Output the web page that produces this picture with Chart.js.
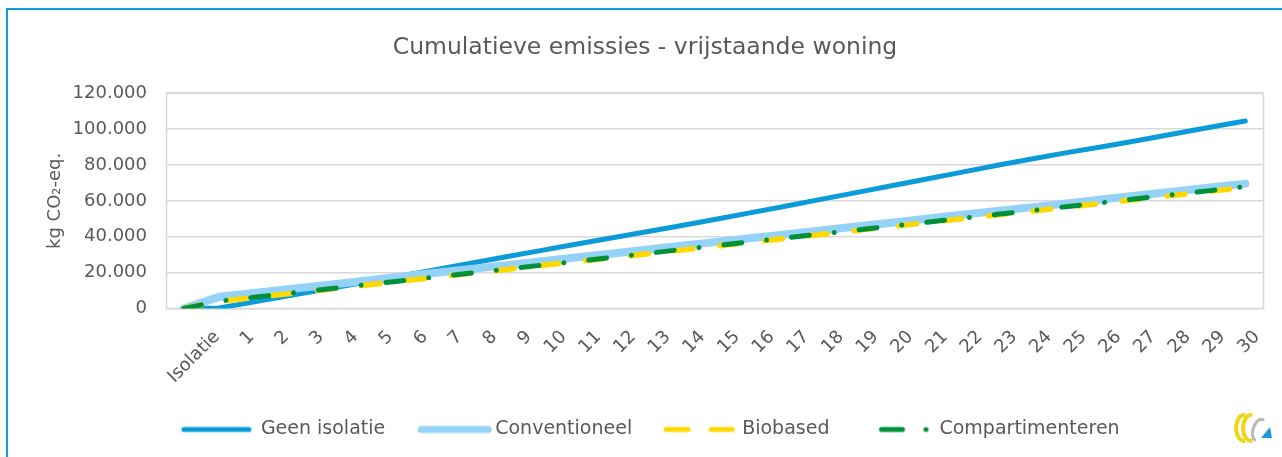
<!DOCTYPE html>
<html>
<head>
<meta charset="utf-8">
<script src="https://cdn.jsdelivr.net/npm/chart.js@4.4.0/dist/chart.umd.min.js"></script>
<style>
html,body{margin:0;padding:0;background:#fff;width:1282px;height:457px;overflow:hidden}
#frame{position:absolute;left:6px;top:8px;width:1274px;height:447px;border-left:2px solid #0A9FDC;border-top:2px solid #0A9FDC;background:#fff}
#frame canvas{display:block}
</style>
</head>
<body>
<div id="frame"><canvas id="c" width="1274" height="447"></canvas></div>
<script>
const categories = ['Isolatie','1','2','3','4','5','6','7','8','9','10','11','12','13','14','15','16','17','18','19','20','21','22','23','24','25','26','27','28','29','30'];

const geenIsolatie = [0, 300, 3700, 7200, 10700, 14200, 17700, 21200, 24800, 28400, 32000, 35500, 39000, 42500, 46000, 49600, 53300, 57000, 60800, 64600, 68400, 72200, 76000, 79800, 83500, 87000, 90300, 93800, 97400, 101000, 104500];
const conventioneel = [0, 6500, 8700, 10900, 13000, 15200, 17400, 19600, 21700, 23900, 26100, 28300, 30400, 32600, 34800, 37000, 39100, 41300, 43500, 45700, 47800, 50000, 52200, 54400, 56500, 58700, 60900, 63100, 65200, 67400, 69600];
const biobased = [0, 3900, 6100, 8300, 10500, 12700, 14900, 17100, 19300, 21500, 23700, 25900, 28000, 30200, 32400, 34600, 36800, 39000, 41200, 43400, 45600, 47800, 50000, 52200, 54300, 56500, 58700, 60900, 63100, 65300, 67500];
const compartimenteren = [0, 4100, 6300, 8500, 10700, 12900, 15100, 17300, 19500, 21700, 23900, 26100, 28300, 30500, 32700, 34900, 37100, 39300, 41500, 43700, 45900, 48100, 50300, 52500, 54700, 56900, 59100, 61300, 63500, 65700, 67900];

const seriesNames = ['Geen isolatie', 'Conventioneel', 'Biobased', 'Compartimenteren'];
const yMin = 0, yMax = 120000, yStep = 20000;
const chartTitle = 'Cumulatieve emissies - vrijstaande woning';
const yTitle = 'kg CO\u2082-eq.';

const FONT = '"DejaVu Sans", "Open Sans", sans-serif';
const TXT = '#595959';
const C_GEEN = '#0A9BD8', C_CONV = '#94D2F7', C_BIO = '#FFD800', C_COMP = '#00903A';

Chart.defaults.font.family = FONT;
Chart.defaults.color = TXT;

function sample(draw) {
  const cv = document.createElement('canvas');
  cv.width = 100; cv.height = 12;
  const g = cv.getContext('2d');
  g.lineCap = 'round';
  draw(g);
  return cv;
}
const legendPics = [
  sample(g => { g.strokeStyle = C_GEEN; g.lineWidth = 5; g.beginPath(); g.moveTo(23, 6); g.lineTo(88, 6); g.stroke(); }),
  sample(g => { g.strokeStyle = C_CONV; g.lineWidth = 7; g.beginPath(); g.moveTo(26, 6); g.lineTo(93, 6); g.stroke(); }),
  sample(g => { g.strokeStyle = C_BIO; g.lineWidth = 5; g.beginPath(); g.moveTo(24, 6); g.lineTo(46, 6); g.moveTo(69, 6); g.lineTo(90, 6); g.stroke(); }),
  sample(g => { g.strokeStyle = C_COMP; g.lineWidth = 5; g.beginPath(); g.moveTo(42, 6); g.lineTo(63, 6); g.stroke();
                g.fillStyle = C_COMP; g.beginPath(); g.arc(86.5, 6, 2.5, 0, Math.PI * 2); g.fill(); })
];

const plotFrame = {
  id: 'plotFrame',
  beforeDatasetsDraw(chart) {
    const a = chart.chartArea, ctx = chart.ctx;
    ctx.save();
    ctx.strokeStyle = '#D9D9D9';
    ctx.lineWidth = 1.5;
    ctx.strokeRect(Math.round(a.left) + 0.5, Math.round(a.top) + 0.5, Math.round(a.right - a.left), Math.round(a.bottom - a.top));
    ctx.restore();
  }
};

const logo = {
  id: 'logo',
  afterDraw(chart) {
    const ctx = chart.ctx;
    ctx.save();
    ctx.lineCap = 'butt';
    ctx.strokeStyle = '#EED51C';
    ctx.lineWidth = 4;
    ctx.beginPath(); ctx.ellipse(1236, 418, 8, 13, 0, Math.PI * 0.45, Math.PI * 1.55); ctx.stroke();
    ctx.beginPath(); ctx.ellipse(1243, 418, 8, 13, 0, Math.PI * 0.45, Math.PI * 1.55); ctx.stroke();
    ctx.strokeStyle = '#B9B9B9';
    ctx.lineWidth = 3;
    ctx.beginPath(); ctx.ellipse(1251, 420, 6, 11, 0.3, Math.PI * 0.5, Math.PI * 1.6); ctx.stroke();
    ctx.fillStyle = '#1E9BE0';
    ctx.beginPath(); ctx.moveTo(1253, 428); ctx.lineTo(1264, 428); ctx.lineTo(1262, 417); ctx.closePath(); ctx.fill();
    ctx.restore();
  }
};

const ds = (label, data, color, width, dash, order) => ({
  label, data, borderColor: color, backgroundColor: color, borderWidth: width,
  borderDash: dash, borderCapStyle: 'round', borderJoinStyle: 'round',
  pointRadius: 0, pointHoverRadius: 0, tension: 0, fill: false, order
});

new Chart(document.getElementById('c'), {
  type: 'line',
  data: {
    labels: categories,
    datasets: [
      ds(seriesNames[0], geenIsolatie, C_GEEN, 5, [], 3),
      ds(seriesNames[1], conventioneel, C_CONV, 8, [], 2),
      ds(seriesNames[2], biobased, C_BIO, 5.5, [18, 27], 1),
      ds(seriesNames[3], compartimenteren, C_COMP, 5, [18, 25, 0.01, 25], 0)
    ]
  },
  options: {
    responsive: false,
    animation: false,
    devicePixelRatio: 1,
    layout: { padding: { left: 0, right: 0, top: 0, bottom: 8 } },
    plugins: {
      title: {
        display: true, text: chartTitle, color: TXT,
        font: { size: 23.5, weight: 'normal', family: FONT, lineHeight: 1.2 },
        padding: { top: 24, bottom: 31 }
      },
      legend: {
        position: 'bottom',
        labels: {
          usePointStyle: true,
          pointStyleWidth: 81,
          padding: 19.5,
          color: TXT,
          font: { size: 19, family: FONT },
          sort: (a, b) => a.datasetIndex - b.datasetIndex,
          generateLabels(chart) {
            const items = Chart.defaults.plugins.legend.labels.generateLabels(chart);
            items.forEach(it => { it.pointStyle = legendPics[it.datasetIndex]; });
            return items;
          }
        }
      },
      tooltip: { enabled: false }
    },
    scales: {
      x: {
        offset: true,
        grid: { display: false, drawTicks: false },
        border: { display: false },
        ticks: { display: false },
        afterFit(s) { s.height = 0; s.paddingLeft = 0; s.paddingRight = 0; }
      },
      xLabels: {
        type: 'linear',
        position: 'bottom',
        min: -1.47, max: 30.17,
        grid: { display: false, drawTicks: false },
        border: { display: false },
        afterBuildTicks(s) { s.ticks = categories.map((_, i) => ({ value: i })); },
        ticks: {
          autoSkip: false, minRotation: 45, maxRotation: 45, padding: 18, color: TXT,
          font: { size: 18, family: FONT },
          callback: v => categories[v]
        },
        afterFit(s) { s.height = 92; s.paddingLeft = 0; s.paddingRight = 0; }
      },
      y: {
        min: yMin, max: yMax,
        grid: { color: '#D9D9D9', lineWidth: 1.5, drawTicks: false },
        border: { display: false },
        ticks: {
          stepSize: yStep, padding: 19, color: TXT, font: { size: 18, family: FONT },
          callback: v => v.toLocaleString('nl-NL')
        },
        title: { display: true, text: yTitle, color: TXT, font: { size: 18, family: FONT }, padding: { top: 37, bottom: 0 } },
        afterFit(s) { s.width = 158; }
      },
      yRight: {
        position: 'right',
        grid: { display: false, drawTicks: false },
        border: { display: false },
        ticks: { display: false },
        afterFit(s) { s.width = 19; }
      }
    }
  },
  plugins: [plotFrame, logo]
});
</script>
</body>
</html>
